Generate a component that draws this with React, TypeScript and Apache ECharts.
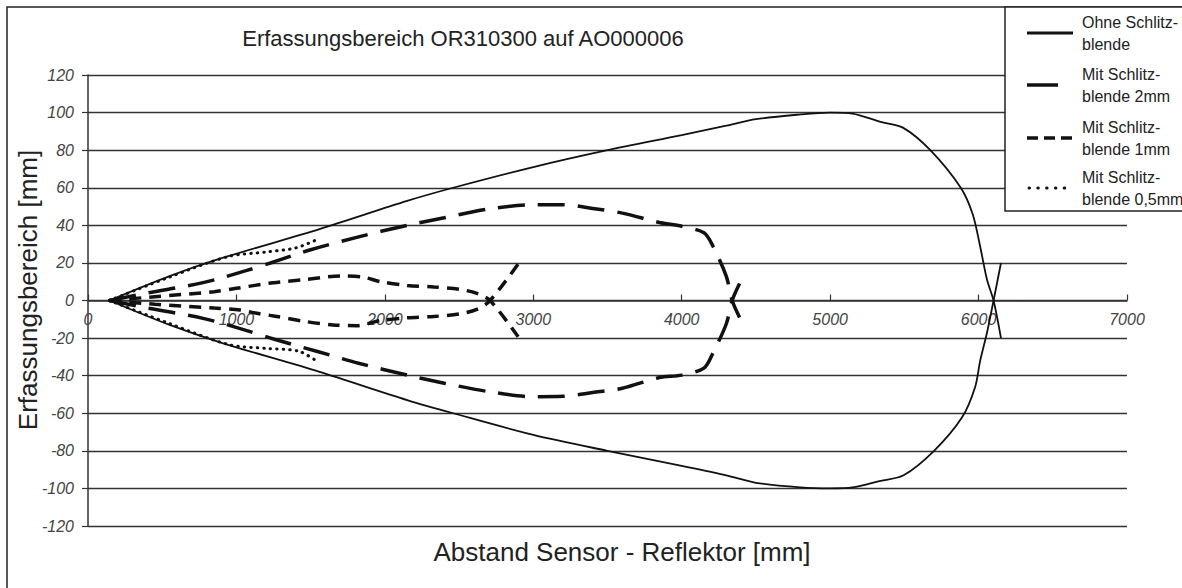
import React, { useEffect, useRef } from "react";
import * as echarts from "echarts";

type P = [number, number];

const chartTitle = "Erfassungsbereich OR310300 auf AO000006";
const xTitle = "Abstand Sensor - Reflektor [mm]";
const yTitle = "Erfassungsbereich [mm]";
const legendLabels = [
  ["Ohne Schlitz-", "blende"],
  ["Mit Schlitz-", "blende 2mm"],
  ["Mit Schlitz-", "blende 1mm"],
  ["Mit Schlitz-", "blende 0,5mm"],
];

// Ohne Schlitzblende (solid)
const ohneOben: P[] = [
  [144, 0], [550, 13], [900, 22.5], [1560, 38], [2150, 53], [2460, 60], [3000, 71],
  [3500, 80], [4000, 88], [4300, 93], [4500, 96.5], [4800, 99], [5000, 100], [5150, 99.5],
  [5340, 95], [5490, 92], [5675, 80], [5880, 60], [5960, 46], [6010, 29], [6057, 11],
  [6101, 0], [6151, -20],
];
const ohneUnten: P[] = [
  [144, 0], [550, -13], [900, -22.5], [1560, -38], [2150, -53], [2460, -60], [3000, -71.5],
  [3500, -80], [4000, -88], [4300, -93], [4500, -97], [4800, -99.5], [5000, -100], [5150, -99.5],
  [5340, -96], [5495, -93], [5700, -80], [5890, -62], [5977, -46], [6011, -32], [6057, -17],
  [6101, 0], [6151, 20],
];

// Mit Schlitzblende 2mm (long dash)
const mm2Oben: P[] = [
  [144, 0], [400, 4], [775, 9.5], [1070, 16], [1250, 20.5], [1500, 27], [1830, 34],
  [2150, 40], [2400, 44], [2700, 48.7], [3000, 51], [3200, 51], [3400, 49], [3600, 46.5],
  [3850, 41.5], [4000, 39.5], [4150, 36], [4210, 29], [4300, 13], [4340, 0], [4390, -9],
];
const mm2Unten: P[] = [
  [144, 0], [400, -4], [775, -9.5], [1070, -16], [1250, -20.5], [1540, -27], [1830, -33.5],
  [2150, -39.7], [2400, -44], [2700, -48.5], [3000, -51.2], [3200, -51], [3400, -49],
  [3600, -46.7], [3850, -41], [4000, -39.7], [4150, -36], [4210, -28], [4300, -12.5],
  [4340, 0], [4390, 9],
];

// Mit Schlitzblende 1mm (medium dash)
const mm1Oben: P[] = [
  [144, 0], [450, 2], [850, 4.7], [1000, 6.5], [1250, 9.5], [1450, 11], [1700, 13],
  [1850, 12.5], [1970, 10], [2150, 8], [2330, 7.2], [2500, 6], [2620, 3.8], [2709, 0],
  [2898, -19.3],
];
const mm1Unten: P[] = [
  [144, 0], [450, -2], [850, -4], [1024, -5], [1137, -6.8], [1250, -8.2], [1450, -11],
  [1650, -13], [1810, -13.4], [1968, -10.7], [2150, -9.2], [2330, -8.5], [2500, -7.2],
  [2620, -4.7], [2709, 0], [2898, 19.4],
];

// Mit Schlitzblende 0,5mm (dotted)
const mm05Oben: P[] = [
  [144, 0], [550, 12.5], [950, 23.5], [1200, 25.8], [1400, 28], [1545, 32.5],
];
const mm05Unten: P[] = [
  [144, 0], [550, -12.3], [950, -23.5], [1200, -25.5], [1420, -27], [1545, -32.5],
];

const xMin = 0, xMax = 7000, xStep = 1000;
const yMin = -120, yMax = 120, yStep = 20;

const FONT = "'Liberation Sans', Arial, sans-serif";
const INK = "#111";

const GRID_TOP = 75;
const GRID_BOTTOM = 62;
const CHART_H = 588;

export default function App() {
  const ref = useRef<HTMLDivElement>(null);
  useEffect(() => {
    document.body.style.margin = "0";
    const chart = echarts.init(ref.current!, undefined, { renderer: "svg" });
    const mk = (name: string, data: P[], width: number, type: any, cap = "butt") => ({
      name,
      type: "line",
      data,
      showSymbol: false,
      symbol: "none",
      smooth: 0.3,
      clip: false,
      lineStyle: { color: INK, width, type, cap },
      z: 5,
    });
    const dash2: any = [27, 13];
    const dash1: any = [12, 8];
    const dots: any = [0.5, 6];
    const legendTop = [22, 74, 127, 177];
    const lx1 = 1027;
    const graphics: any[] = [
      {
        type: "rect", z: 0, silent: true,
        shape: { x: 7, y: 7, width: 1200, height: 620 },
        style: { fill: "none", stroke: "#222", lineWidth: 1.5 },
      },
      {
        type: "text", x: 463, y: 38, z: 10,
        style: { text: chartTitle, font: `22px ${FONT}`, fill: "#222", align: "center", verticalAlign: "middle" },
      },
      {
        type: "text", x: 622, y: 552, z: 10,
        style: { text: xTitle, font: `26px ${FONT}`, fill: "#222", align: "center", verticalAlign: "middle" },
      },
      {
        type: "text", x: 28, y: 290, rotation: Math.PI / 2, z: 10,
        style: { text: yTitle, font: `26px ${FONT}`, fill: "#222", align: "center", verticalAlign: "middle" },
      },
      {
        type: "rect", z: 20,
        shape: { x: 1005, y: 7, width: 200, height: 204 },
        style: { fill: "#fff", stroke: "#222", lineWidth: 1.5 },
      },
    ];
    const sampleStyles = [
      { x2: 1073, lineWidth: 3, lineDash: null as any, lineCap: "butt" },
      { x2: 1058, lineWidth: 3.5, lineDash: null as any, lineCap: "butt" },
      { x2: 1072, lineWidth: 3.5, lineDash: [11, 6], lineCap: "butt" },
      { x2: 1072, lineWidth: 3, lineDash: [0.5, 8.3], lineCap: "round" },
    ];
    legendLabels.forEach((lines, i) => {
      const t = legendTop[i];
      const s = sampleStyles[i];
      graphics.push({
        type: "line", z: 21,
        shape: { x1: i === 3 ? 1029 : lx1, y1: t + 11, x2: s.x2, y2: t + 11 },
        style: { stroke: INK, lineWidth: s.lineWidth, lineDash: s.lineDash, lineCap: s.lineCap },
      });
      graphics.push({
        type: "text", x: 1082, y: t, z: 21,
        style: { text: lines[0], font: `16px ${FONT}`, fill: "#222", align: "left", verticalAlign: "middle" },
      });
      graphics.push({
        type: "text", x: 1082, y: t + 22, z: 21,
        style: { text: lines[1], font: `16px ${FONT}`, fill: "#222", align: "left", verticalAlign: "middle" },
      });
    });

    // place the x axis on y = 0 (centre of the symmetric y range)
    const plotH = CHART_H - GRID_TOP - GRID_BOTTOM;
    const zeroOffset = -plotH * (0 - yMin) / (yMax - yMin);

    chart.setOption({
      animation: false,
      backgroundColor: "#fff",
      grid: { left: 88, right: 55, top: GRID_TOP, bottom: GRID_BOTTOM, containLabel: false },
      xAxis: {
        type: "value", min: xMin, max: xMax, interval: xStep,
        position: "bottom",
        offset: zeroOffset,
        axisLine: { show: true, onZero: false, lineStyle: { color: "#333", width: 1.5 } },
        axisTick: { show: true, inside: true, length: 6, lineStyle: { color: "#333", width: 1.2 } },
        axisLabel: {
          margin: 11, fontStyle: "italic", fontSize: 16, color: "#444", fontFamily: FONT,
          formatter: (v: number) => String(v),
        },
        splitLine: { show: false },
      },
      yAxis: {
        type: "value", min: yMin, max: yMax, interval: yStep,
        axisLine: { show: true, onZero: false, lineStyle: { color: "#333", width: 1.5 } },
        axisTick: { show: true, length: 6, lineStyle: { color: "#333", width: 1.2 } },
        axisLabel: {
          margin: 14, fontStyle: "italic", fontSize: 16, color: "#444", fontFamily: FONT,
          formatter: (v: number) => String(v),
        },
        splitLine: { show: true, lineStyle: { color: "#333", width: 1.4 } },
      },
      series: [
        mk("Ohne Schlitzblende (oben)", ohneOben, 1.8, "solid"),
        mk("Ohne Schlitzblende (unten)", ohneUnten, 1.8, "solid"),
        mk("Mit Schlitzblende 2mm (oben)", mm2Oben, 3.5, dash2),
        mk("Mit Schlitzblende 2mm (unten)", mm2Unten, 3.5, dash2),
        mk("Mit Schlitzblende 1mm (oben)", mm1Oben, 3.5, dash1),
        mk("Mit Schlitzblende 1mm (unten)", mm1Unten, 3.5, dash1),
        mk("Mit Schlitzblende 0,5mm (oben)", mm05Oben, 3, dots, "round"),
        mk("Mit Schlitzblende 0,5mm (unten)", mm05Unten, 3, dots, "round"),
      ],
      graphic: graphics,
    });
    return () => chart.dispose();
  }, []);
  return <div ref={ref} style={{ width: 1182, height: 588 }} />;
}
